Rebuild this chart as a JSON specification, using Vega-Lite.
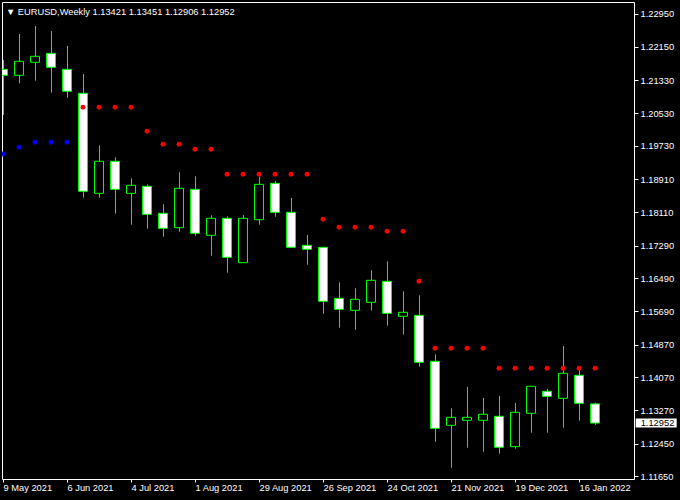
{
  "$schema": "https://vega.github.io/schema/vega-lite/v6.json",
  "width": 632,
  "height": 477,
  "autosize": "none",
  "padding": {"left": 2, "top": 2, "right": 46, "bottom": 21},
  "background": "black",
  "config": {
    "view": {"stroke": "white", "strokeWidth": 1},
    "axis": {"labelFont": "Liberation Sans", "labelFontSize": 9.3, "labelColor": "white", "tickColor": "white", "domain": false, "grid": false, "title": null, "labelOverlap": false, "labelFlush": false, "labelBound": false}
  },
  "title": {
    "text": "▼ EURUSD,Weekly  1.13421 1.13451 1.12906 1.12952",
    "anchor": "start",
    "frame": "group",
    "orient": "top",
    "offset": -22,
    "dx": 4,
    "baseline": "alphabetic",
    "color": "white",
    "font": "Liberation Sans",
    "fontSize": 9.3,
    "fontWeight": "normal"
  },
  "data": {
    "values": [
      {"date": "2021-05-09", "open": 1.21598, "high": 1.21826, "low": 1.20481, "close": 1.21452, "sar": 1.19528},
      {"date": "2021-05-16", "open": 1.21452, "high": 1.22461, "low": 1.21256, "close": 1.21794, "sar": 1.19692},
      {"date": "2021-05-23", "open": 1.21769, "high": 1.22657, "low": 1.21320, "close": 1.21916, "sar": 1.19814},
      {"date": "2021-05-30", "open": 1.21989, "high": 1.22534, "low": 1.21026, "close": 1.21647, "sar": 1.19814},
      {"date": "2021-06-06", "open": 1.21598, "high": 1.22168, "low": 1.20904, "close": 1.21061, "sar": 1.19814},
      {"date": "2021-06-13", "open": 1.21012, "high": 1.21483, "low": 1.18460, "close": 1.18616, "sar": 1.20670},
      {"date": "2021-06-20", "open": 1.18567, "high": 1.19741, "low": 1.18460, "close": 1.19350, "sar": 1.20670},
      {"date": "2021-06-27", "open": 1.19350, "high": 1.19447, "low": 1.18069, "close": 1.18665, "sar": 1.20670},
      {"date": "2021-07-04", "open": 1.18567, "high": 1.18934, "low": 1.17800, "close": 1.18763, "sar": 1.20670},
      {"date": "2021-07-11", "open": 1.18739, "high": 1.18787, "low": 1.17702, "close": 1.18054, "sar": 1.20083},
      {"date": "2021-07-18", "open": 1.18079, "high": 1.18299, "low": 1.17507, "close": 1.17712, "sar": 1.19765},
      {"date": "2021-07-25", "open": 1.17727, "high": 1.19081, "low": 1.17629, "close": 1.18690, "sar": 1.19765},
      {"date": "2021-08-01", "open": 1.18665, "high": 1.18983, "low": 1.17531, "close": 1.17590, "sar": 1.19643},
      {"date": "2021-08-08", "open": 1.17541, "high": 1.18030, "low": 1.17042, "close": 1.17956, "sar": 1.19643},
      {"date": "2021-08-15", "open": 1.17956, "high": 1.18005, "low": 1.16627, "close": 1.17003, "sar": 1.19032},
      {"date": "2021-08-22", "open": 1.16871, "high": 1.18037, "low": 1.16871, "close": 1.17956, "sar": 1.19032},
      {"date": "2021-08-29", "open": 1.17922, "high": 1.18973, "low": 1.17800, "close": 1.18787, "sar": 1.19032},
      {"date": "2021-09-05", "open": 1.18812, "high": 1.18868, "low": 1.17995, "close": 1.18103, "sar": 1.19032},
      {"date": "2021-09-12", "open": 1.18103, "high": 1.18453, "low": 1.17247, "close": 1.17247, "sar": 1.19032},
      {"date": "2021-09-19", "open": 1.17296, "high": 1.17548, "low": 1.16822, "close": 1.17199, "sar": 1.19032},
      {"date": "2021-09-26", "open": 1.17247, "high": 1.17247, "low": 1.15624, "close": 1.15928, "sar": 1.17932},
      {"date": "2021-10-03", "open": 1.16001, "high": 1.16392, "low": 1.15282, "close": 1.15732, "sar": 1.17736},
      {"date": "2021-10-10", "open": 1.15708, "high": 1.16245, "low": 1.15233, "close": 1.15976, "sar": 1.17736},
      {"date": "2021-10-17", "open": 1.15903, "high": 1.16685, "low": 1.15698, "close": 1.16441, "sar": 1.17736},
      {"date": "2021-10-24", "open": 1.16416, "high": 1.16905, "low": 1.15331, "close": 1.15634, "sar": 1.17639},
      {"date": "2021-10-31", "open": 1.15561, "high": 1.16172, "low": 1.15111, "close": 1.15659, "sar": 1.17639},
      {"date": "2021-11-07", "open": 1.15585, "high": 1.16074, "low": 1.14329, "close": 1.14437, "sar": 1.16416},
      {"date": "2021-11-14", "open": 1.14461, "high": 1.14632, "low": 1.12496, "close": 1.12823, "sar": 1.14779},
      {"date": "2021-11-21", "open": 1.12897, "high": 1.13312, "low": 1.11860, "close": 1.13092, "sar": 1.14779},
      {"date": "2021-11-28", "open": 1.13019, "high": 1.13833, "low": 1.12349, "close": 1.13092, "sar": 1.14779},
      {"date": "2021-12-05", "open": 1.13019, "high": 1.13564, "low": 1.12251, "close": 1.13166, "sar": 1.14779},
      {"date": "2021-12-12", "open": 1.13117, "high": 1.13613, "low": 1.12202, "close": 1.12359, "sar": 1.14290},
      {"date": "2021-12-19", "open": 1.12374, "high": 1.13442, "low": 1.12325, "close": 1.13214, "sar": 1.14290},
      {"date": "2021-12-26", "open": 1.13190, "high": 1.13850, "low": 1.12716, "close": 1.13850, "sar": 1.14290},
      {"date": "2022-01-02", "open": 1.13728, "high": 1.13784, "low": 1.12716, "close": 1.13605, "sar": 1.14290},
      {"date": "2022-01-09", "open": 1.13557, "high": 1.14835, "low": 1.12838, "close": 1.14168, "sar": 1.14290},
      {"date": "2022-01-16", "open": 1.14119, "high": 1.14241, "low": 1.13009, "close": 1.13434, "sar": 1.14290},
      {"date": "2022-01-23", "open": 1.13421, "high": 1.13451, "low": 1.12906, "close": 1.12952, "sar": 1.14290}
    ]
  },
  "encoding": {
    "x": {
      "field": "date",
      "type": "temporal",
      "scale": {
        "type": "utc",
        "padding": 0,
        "domain": [
          {"year": 2021, "month": "May", "date": 8, "hours": 13, "minutes": 30, "utc": true},
          {"year": 2022, "month": "Feb", "date": 9, "hours": 1, "minutes": 30, "utc": true}
        ]
      },
      "axis": {
        "orient": "bottom",
        "values": [
          {"year": 2021, "month": "May", "date": 9, "utc": true},
          {"year": 2021, "month": "Jun", "date": 6, "utc": true},
          {"year": 2021, "month": "Jul", "date": 4, "utc": true},
          {"year": 2021, "month": "Aug", "date": 1, "utc": true},
          {"year": 2021, "month": "Aug", "date": 29, "utc": true},
          {"year": 2021, "month": "Sep", "date": 26, "utc": true},
          {"year": 2021, "month": "Oct", "date": 24, "utc": true},
          {"year": 2021, "month": "Nov", "date": 21, "utc": true},
          {"year": 2021, "month": "Dec", "date": 19, "utc": true},
          {"year": 2022, "month": "Jan", "date": 16, "utc": true}
        ],
        "tickCount": 20,
        "labelExpr": "utcFormat(datum.value, '%-d %b %Y')",
        "labelAlign": "left",
        "labelBaseline": "top",
        "labelPadding": 1,
        "tickSize": 3,
        "ticks": true
      }
    }
  },
  "layer": [
    {
      "mark": {"type": "rule", "color": "#00ff00", "strokeWidth": 1, "xOffset": 0.5, "clip": true},
      "encoding": {
        "y": {
          "field": "low",
          "type": "quantitative",
          "scale": {"domain": [1.11584, 1.232433], "zero": false, "nice": false},
          "axis": {
            "orient": "right",
            "values": [1.2295, 1.2215, 1.2133, 1.2053, 1.1973, 1.1891, 1.1811, 1.1729, 1.1649, 1.1569, 1.1487, 1.1407, 1.1327, 1.1245, 1.1165],
            "tickCount": 30,
            "format": ".5f",
            "tickSize": 4,
            "labelPadding": 2,
            "labelBaseline": "middle",
            "labelAlign": "left"
          }
        },
        "y2": {"field": "high"}
      }
    },
    {
      "mark": {"type": "bar", "width": 9, "stroke": "#00ff00", "strokeWidth": 1, "clip": true},
      "encoding": {
        "y": {"field": "open", "type": "quantitative"},
        "y2": {"field": "close"},
        "fill": {"condition": {"test": "datum.close < datum.open", "value": "white"}, "value": "black"}
      }
    },
    {
      "mark": {"type": "point", "filled": true, "size": 24, "opacity": 1, "strokeWidth": 0, "clip": true},
      "encoding": {
        "y": {"field": "sar", "type": "quantitative"},
        "color": {"condition": {"test": "datum.sar < datum.low", "value": "#0000ff"}, "value": "#ff0000"}
      }
    },
    {
      "transform": [{"filter": "datum.close == 1.12952"}],
      "mark": {"type": "point", "shape": "M40.7,-4.5H81.7V4.5H40.7Z", "size": 4, "filled": true, "fill": "white", "fillOpacity": 1, "opacity": 1, "strokeWidth": 0, "clip": false},
      "encoding": {
        "y": {"field": "close", "type": "quantitative"}
      }
    },
    {
      "transform": [{"filter": "datum.close == 1.12952"}],
      "mark": {"type": "text", "align": "left", "baseline": "middle", "dx": 45.7, "fill": "black", "font": "Liberation Sans", "fontSize": 9.3, "clip": false},
      "encoding": {
        "y": {"field": "close", "type": "quantitative"},
        "text": {"field": "close", "type": "quantitative", "format": ".5f"}
      }
    }
  ]
}
